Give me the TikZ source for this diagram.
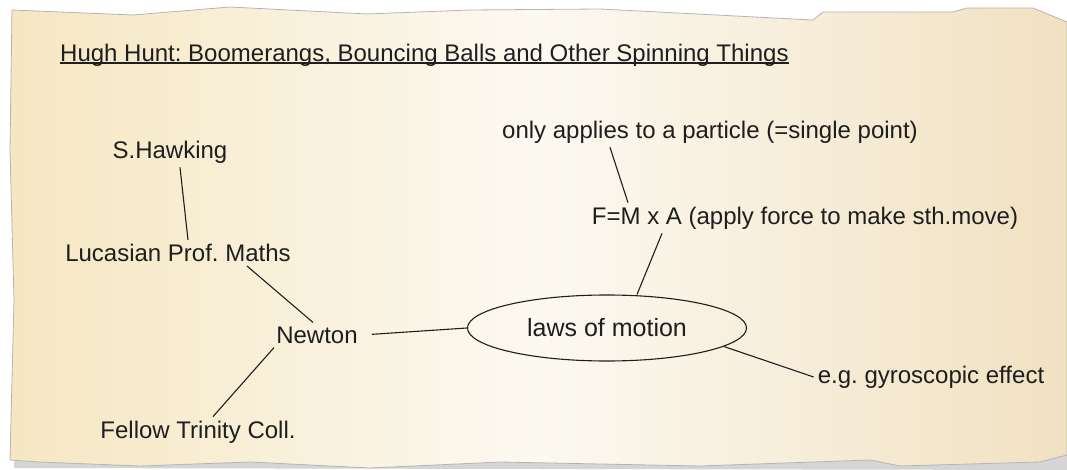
\documentclass[tikz,border=0pt]{standalone}
\usepackage{fontspec}
\setmainfont{Liberation Sans}
\usetikzlibrary{shapes.geometric,positioning}
\frenchspacing

\definecolor{paperL}{HTML}{F6E7C2}
\definecolor{paperM}{HTML}{FCF9F1}
\definecolor{paperR}{HTML}{F1E1C1}
\definecolor{rim}{HTML}{B4B4B4}
\definecolor{ink}{HTML}{1E1E1E}

\begin{document}
\begin{tikzpicture}[x=1pt, y=-1pt,
  idea/.style={font=\fontsize{24}{28}\selectfont, text=ink, inner sep=4pt},
  hub/.style={ellipse, draw=ink, line width=1.1pt, minimum width=279pt, minimum height=66pt, inner sep=0pt},
  link/.style={draw=ink, line width=1.1pt}
]
\useasboundingbox (0,0) rectangle (1067,470);

% torn paper
\fill[rim!70, opacity=0.8] (16,16) -- (1067,28) -- (1067,470) -- (14,468) -- cycle;
\shade[left color=paperL, right color=paperR, middle color=paperM, draw=rim, line width=0.8pt]
  (12,10) -- (133,15) -- (230,7) -- (367,14) -- (470,10) -- (600,9) -- (813,20) -- (823,12)
  -- (953,12) -- (967,8) -- (1033,8) -- (1067,22) -- (1067,455) -- (1040,462) -- (900,466)
  -- (870,460) -- (700,466) -- (500,462) -- (370,468) -- (250,462) -- (140,466) -- (40,462)
  -- (10,460) -- (14,300) -- (10,150) -- cycle;

% title
\node[idea, inner sep=0pt, anchor=base west] (title) at (60,62)
  {Hugh Hunt: Boomerangs, Bouncing Balls and Other Spinning Things};
\draw[ink, line width=1.8pt] ([yshift=-1pt]title.base west) -- ([yshift=-1pt]title.base east);

% nodes
\node[idea] (hawk) at (170,152) {S.Hawking};
\node[idea] (lucas) at (178,253) {Lucasian Prof. Maths};
\node[idea] (newton) at (317,335) {Newton};
\node[idea] (fellow) at (198,432) {Fellow Trinity Coll.};
\node[hub, idea, inner sep=0pt, font=\fontsize{25}{29}\selectfont] (laws) at (607,328) {laws of motion};
\node[idea] (fma) at (805,218) {F=M x A (apply force to make sth.move)};
\node[idea] (particle) at (710,132) {only applies to a particle (=single point)};
\node[idea] (gyro) at (931,377) {e.g. gyroscopic effect};

% connectors
\draw[link] ([xshift=10pt]hawk.south) -- ([xshift=10pt]lucas.north);
\draw[link] ([xshift=69pt]lucas.south) -- ([xshift=-4pt]newton.north);
\draw[link] ([xshift=-43pt]newton.south) -- ([xshift=15pt]fellow.north);
\draw[link, shorten <=10pt] (newton.east) -- (laws.west);
\draw[link] ([xshift=30pt]laws.north) -- ([xshift=-143pt]fma.south);
\draw[link] ([xshift=-177pt]fma.north) -- ([xshift=-100pt]particle.south);
\draw[link] (laws.-9) -- (gyro.west);
\end{tikzpicture}
\end{document}
